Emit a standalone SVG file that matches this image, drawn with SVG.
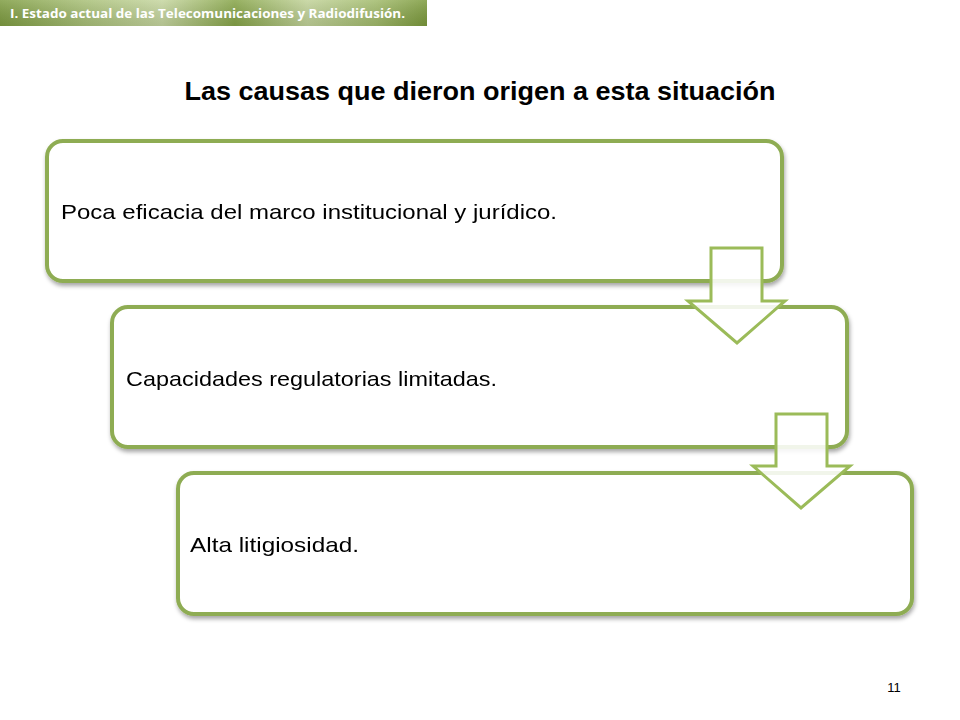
<svg xmlns="http://www.w3.org/2000/svg" width="960" height="720" viewBox="0 0 960 720">
<defs>
<linearGradient id="hdr" x1="0" y1="0" x2="1" y2="0">
<stop offset="0" stop-color="#7f9d42"/>
<stop offset="0.2" stop-color="#a9c078"/>
<stop offset="0.38" stop-color="#c6d6a0"/>
<stop offset="0.55" stop-color="#86a448"/>
<stop offset="0.72" stop-color="#c2d39a"/>
<stop offset="0.88" stop-color="#a2bb6c"/>
<stop offset="1" stop-color="#7c9a3c"/>
</linearGradient>
<linearGradient id="hdrv" x1="0" y1="0" x2="0" y2="1">
<stop offset="0" stop-color="#ffffff" stop-opacity="0.15"/>
<stop offset="1" stop-color="#000000" stop-opacity="0.1"/>
</linearGradient>
<filter id="sh" x="-5%" y="-10%" width="110%" height="125%">
<feDropShadow dx="1" dy="3" stdDeviation="2" flood-color="#000" flood-opacity="0.35"/>
</filter>
</defs>
<style>
.box{fill:#ffffff;stroke:#8eac52;stroke-width:4;}
.arrow{fill:#ffffff;fill-opacity:0.88;stroke:#9bbb59;stroke-width:3;stroke-linejoin:miter;}
.lbl{font-family:"Liberation Sans",Arial,sans-serif;font-size:21px;fill:#000;}
</style>
<rect x="0" y="0" width="960" height="720" fill="#ffffff"/>
<g id="header">
<rect x="0" y="0" width="427" height="26" fill="url(#hdr)"/>
<rect x="0" y="0" width="427" height="26" fill="url(#hdrv)"/>
<text x="10" y="18" font-family="Open Sans,Liberation Sans,sans-serif" font-weight="bold" font-size="12.5" fill="#ffffff" textLength="395" lengthAdjust="spacingAndGlyphs">I. Estado actual de las Telecomunicaciones y Radiodifusión.</text>
</g>
<g id="title">
<text x="480" y="100" text-anchor="middle" font-family="Liberation Sans,Arial,sans-serif" font-weight="bold" font-size="26" fill="#000" textLength="591" lengthAdjust="spacingAndGlyphs">Las causas que dieron origen a esta situación</text>
</g>
<g id="node1" filter="url(#sh)">
<rect class="box" x="47" y="141" width="735" height="140" rx="16"/>
<text class="lbl" x="61" y="219" textLength="496" lengthAdjust="spacingAndGlyphs">Poca eficacia del marco institucional y jurídico.</text>
</g>
<g id="node2" filter="url(#sh)">
<rect class="box" x="112" y="307" width="735" height="140" rx="16"/>
<text class="lbl" x="126" y="386" textLength="371" lengthAdjust="spacingAndGlyphs">Capacidades regulatorias limitadas.</text>
</g>
<g id="node3" filter="url(#sh)">
<rect class="box" x="178" y="473" width="734" height="141" rx="16"/>
<text class="lbl" x="190" y="552" textLength="169" lengthAdjust="spacingAndGlyphs">Alta litigiosidad.</text>
</g>
<g id="connectors">
<polygon class="arrow" points="711,248 762,248 762,301 785,301 737,343 688,301 711,301"/>
<polygon class="arrow" points="776,414 827,414 827,466 850,466 801,508 753,466 776,466"/>
</g>
<g id="page">
<text x="894" y="692" text-anchor="middle" font-family="Liberation Sans,Arial,sans-serif" font-size="13" fill="#000">11</text>
</g>
</svg>
